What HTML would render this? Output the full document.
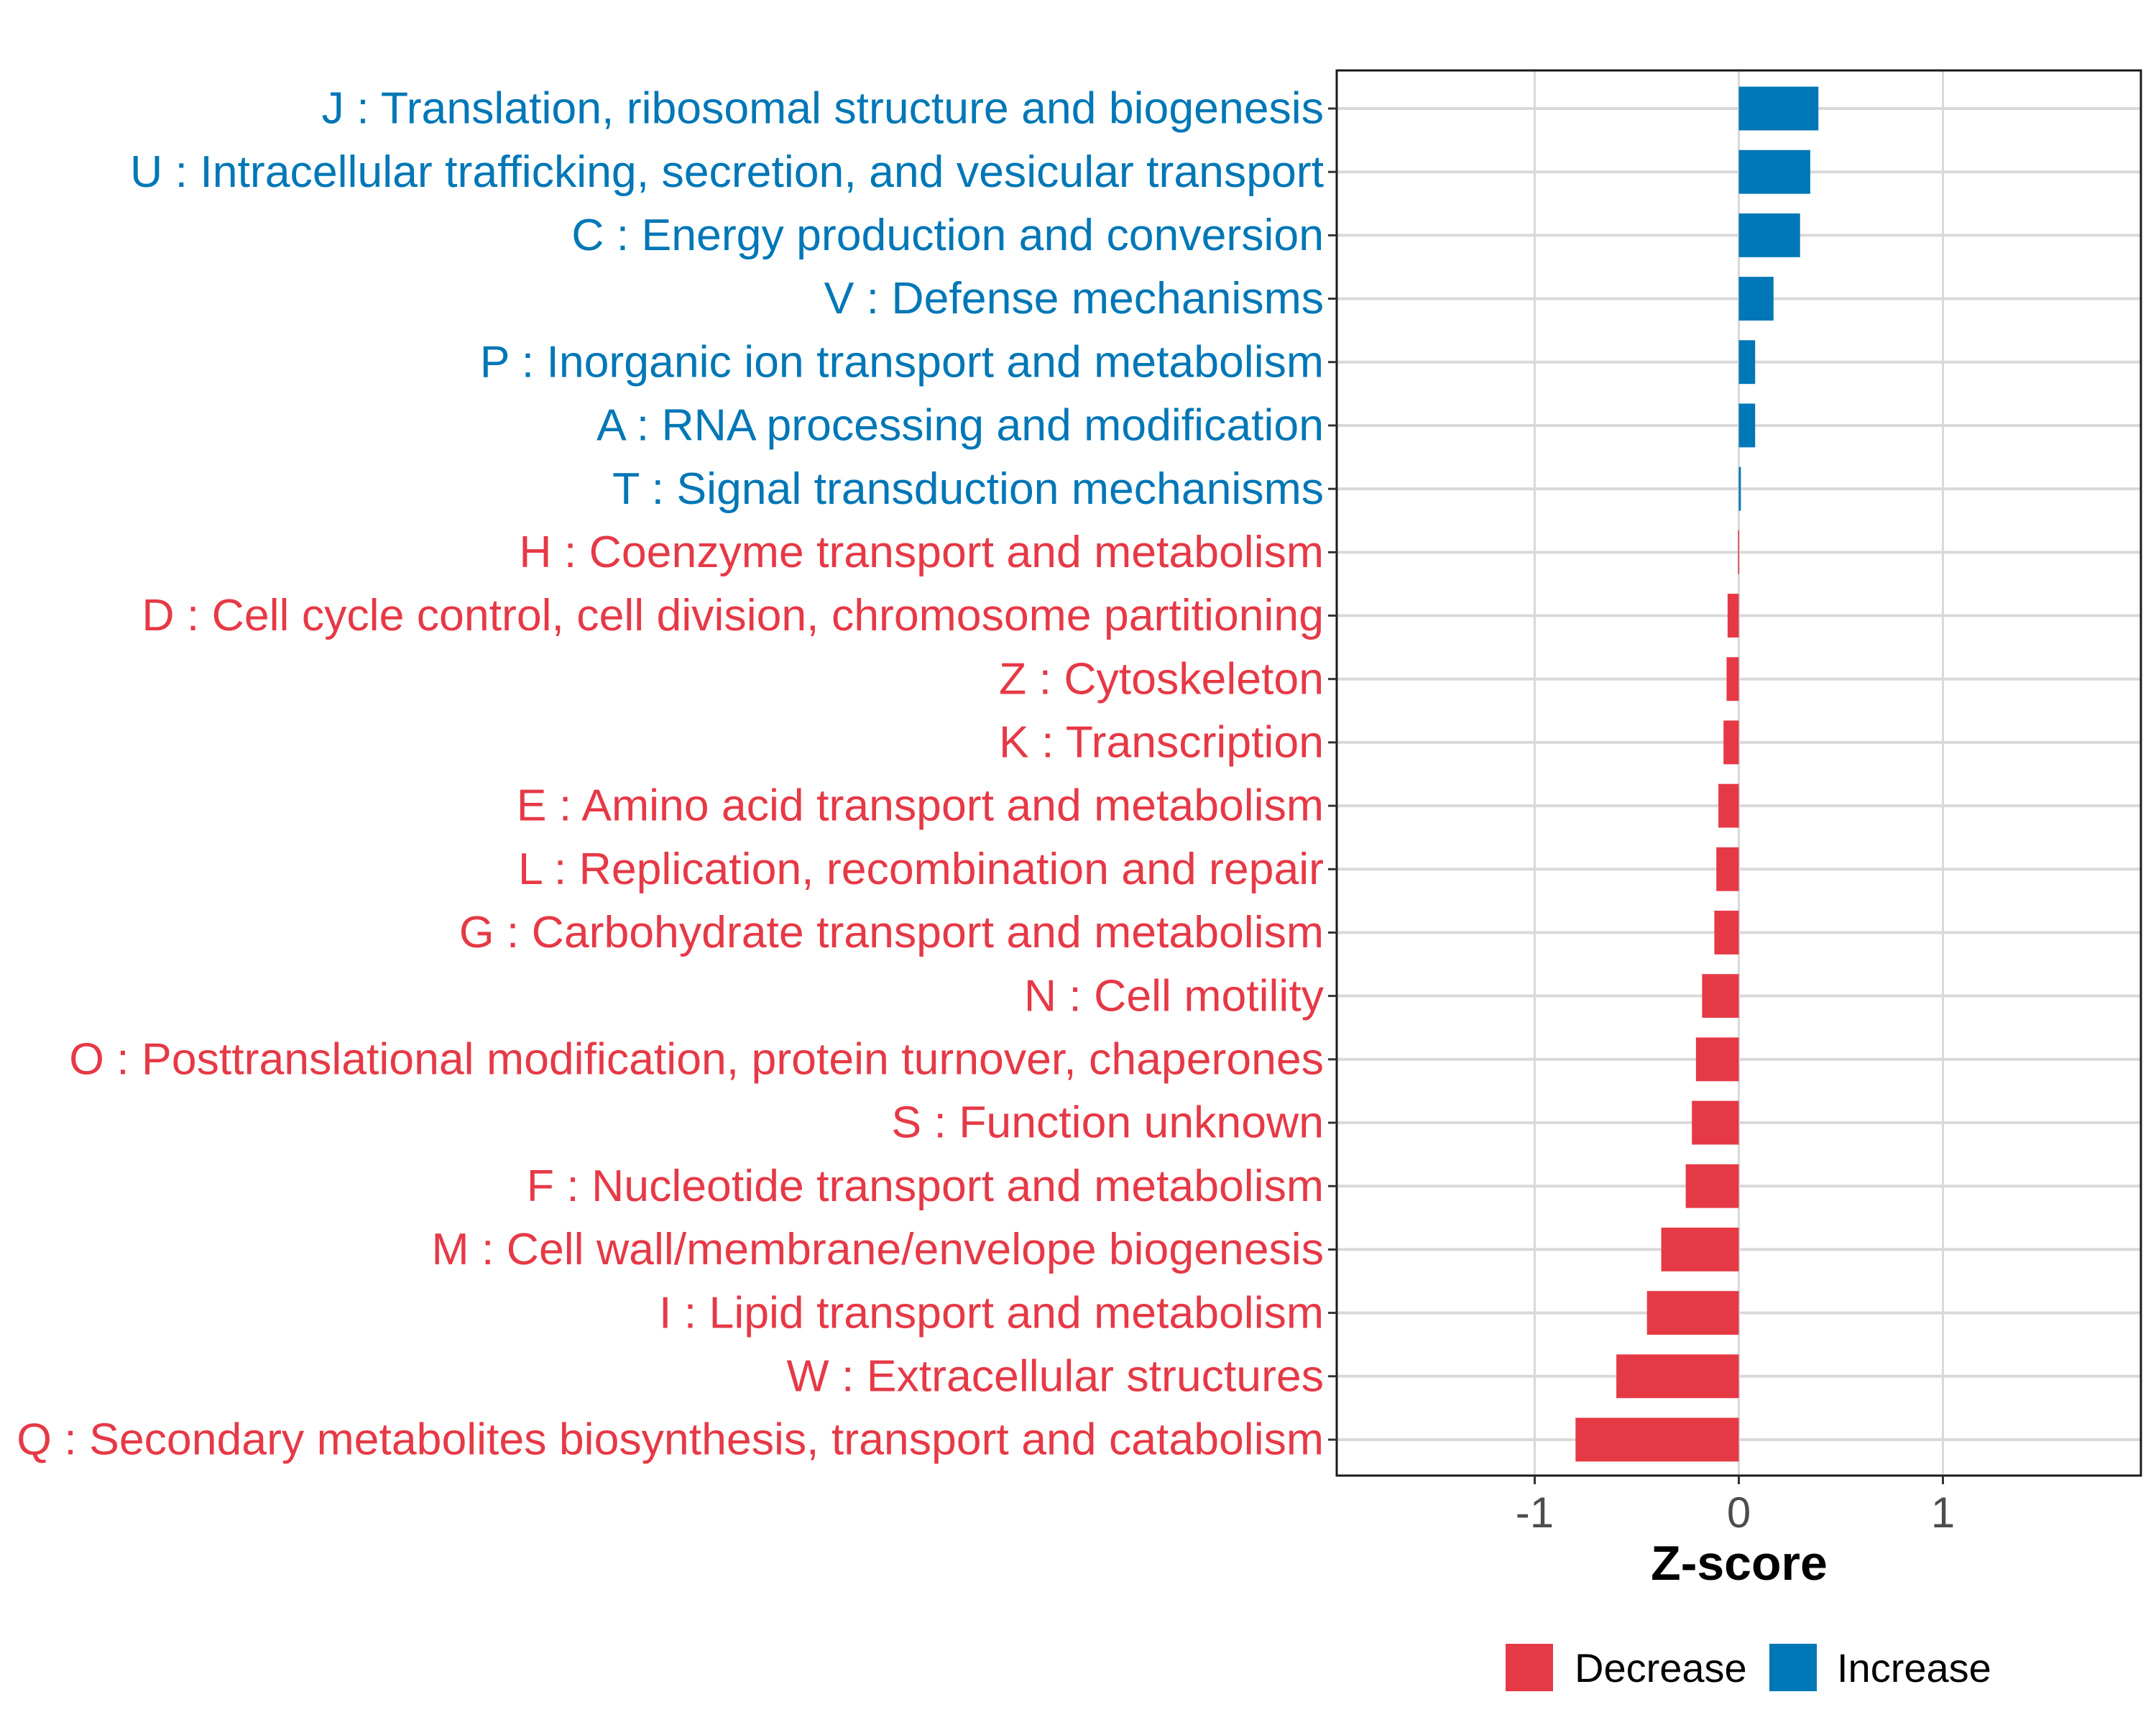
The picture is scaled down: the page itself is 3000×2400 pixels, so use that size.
<!DOCTYPE html>
<html><head><meta charset="utf-8"><style>
html,body{margin:0;padding:0;background:#fff}
svg{display:block;font-family:"Liberation Sans",Arial,sans-serif}
</style></head><body>
<svg id="chart" width="3000" height="2400" viewBox="0 0 3000 2400" xmlns="http://www.w3.org/2000/svg">
<rect x="0" y="0" width="3000" height="2400" fill="#fff"/>
<g id="grid"></g>
<g id="bars"></g>
<rect x="1860" y="98" width="1119" height="1955" fill="none" stroke="#1a1a1a" stroke-width="3"/>
<g id="ylabels"></g>
<g id="xaxis"></g>
<text x="2420" y="2198" font-size="68" font-weight="bold" text-anchor="middle" fill="#000">Z-score</text>
<g>
<rect x="2095" y="2287" width="66" height="66" fill="#E63946"/>
<text x="2191" y="2340" font-size="56" fill="#000">Decrease</text>
<rect x="2462" y="2287" width="66" height="66" fill="#0077B6"/>
<text x="2556" y="2340" font-size="56" fill="#000">Increase</text>
</g>
</svg>
<script>
const categories = [
"J : Translation, ribosomal structure and biogenesis",
"U : Intracellular trafficking, secretion, and vesicular transport",
"C : Energy production and conversion",
"V : Defense mechanisms",
"P : Inorganic ion transport and metabolism",
"A : RNA processing and modification",
"T : Signal transduction mechanisms",
"H : Coenzyme transport and metabolism",
"D : Cell cycle control, cell division, chromosome partitioning",
"Z : Cytoskeleton",
"K : Transcription",
"E : Amino acid transport and metabolism",
"L : Replication, recombination and repair",
"G : Carbohydrate transport and metabolism",
"N : Cell motility",
"O : Posttranslational modification, protein turnover, chaperones",
"S : Function unknown",
"F : Nucleotide transport and metabolism",
"M : Cell wall/membrane/envelope biogenesis",
"I : Lipid transport and metabolism",
"W : Extracellular structures",
"Q : Secondary metabolites biosynthesis, transport and catabolism"
];
const zscores = [0.39,0.35,0.30,0.17,0.08,0.08,0.01,-0.004,-0.055,-0.06,-0.075,-0.10,-0.11,-0.12,-0.18,-0.21,-0.23,-0.26,-0.38,-0.45,-0.60,-0.80];
const xTicks = [-1,0,1];
const xTickLabels = ["-1","0","1"];
const xDomain = [-1.97,1.97];

const NS="http://www.w3.org/2000/svg";
const L=1860,R=2979,T=98,B=2053;
const firstY=151,lastY=2003;
function xs(v){return L+(v-xDomain[0])/(xDomain[1]-xDomain[0])*(R-L);}
function ys(i){return firstY+i*(lastY-firstY)/(categories.length-1);}
const bw=(lastY-firstY)/(categories.length-1)*0.69;
function mk(tag,attrs,parent){const e=document.createElementNS(NS,tag);for(const k in attrs)e.setAttribute(k,attrs[k]);parent.appendChild(e);return e;}
const grid=document.getElementById('grid'),bars=document.getElementById('bars'),yl=document.getElementById('ylabels'),xa=document.getElementById('xaxis');
xTicks.forEach((t,i)=>{
  const g=mk('line',{x1:xs(t),x2:xs(t),y1:T,y2:B,stroke:'#d9d9d9','stroke-width':3},grid);
  
  
  const tk=mk('line',{x1:xs(t),x2:xs(t),y1:B,y2:B+12,stroke:'#333','stroke-width':3},xa);
  
  
  const tl=mk('text',{x:xs(t),y:B+72,'font-size':60,'text-anchor':'middle',fill:'#4d4d4d'},xa);
  
  
  tl.textContent=xTickLabels[i];
});
categories.forEach((c,i)=>{
  const y=ys(i),v=zscores[i],col=v>=0?'#0077B6':'#E63946';
  const g=mk('line',{x1:L,x2:R,y1:y,y2:y,stroke:'#d9d9d9','stroke-width':4},grid);
  
  
  const x0=xs(0),x1=xs(v);
  const r=mk('rect',{x:Math.min(x0,x1),y:y-bw/2,width:Math.max(Math.abs(x1-x0),1.5),height:bw,fill:col},bars);
  
  
  const tk=mk('line',{x1:L-12,x2:L,y1:y,y2:y,stroke:'#333','stroke-width':3},yl);
  
  
  const t=mk('text',{x:1842,y:y+20,'font-size':58,'text-anchor':'end',fill:col},yl);
  
  
  t.textContent=c;
});
const labels=yl.querySelectorAll('text');
const last=labels[labels.length-1];
const w=last.getComputedTextLength();
if(w>0){const fs=58*1819/w;labels.forEach(l=>{l.setAttribute('font-size',fs);l.setAttribute('y',parseFloat(l.getAttribute('y'))-20+fs*0.33);});}
</script>
</body></html>
